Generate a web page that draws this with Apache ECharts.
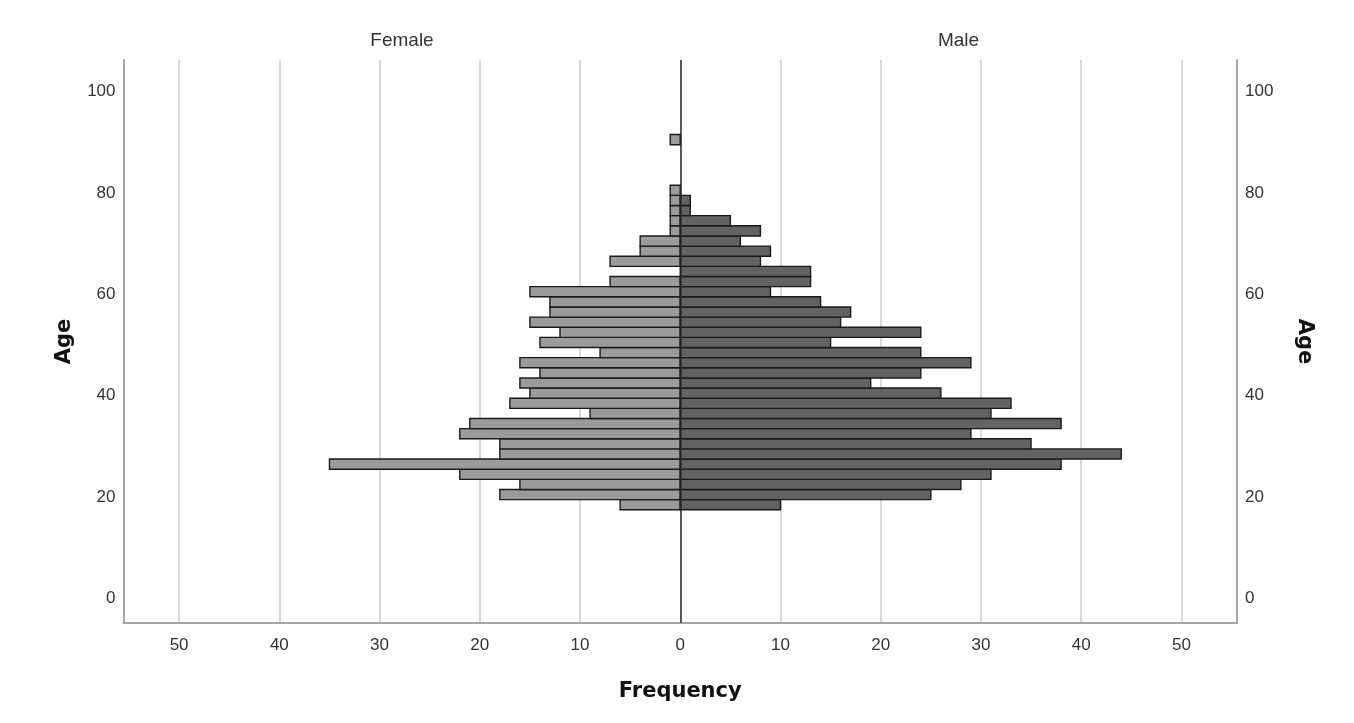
<!DOCTYPE html>
<html>
<head>
<meta charset="utf-8">
<script src="https://cdn.jsdelivr.net/npm/echarts@6/dist/echarts.min.js"></script>
<style>
html,body{margin:0;padding:0;background:#fff;}
#chart{width:1354px;height:723px;}
</style>
</head>
<body>
<div id="chart"></div>
<script>
// Age bin centres (each bin is 2 years wide)
const ageBins = [18.5, 20.5, 22.5, 24.5, 26.5, 28.5, 30.5, 32.5, 34.5, 36.5, 38.5, 40.5, 42.5, 44.5, 46.5, 48.5, 50.5, 52.5, 54.5, 56.5, 58.5, 60.5, 62.5, 64.5, 66.5, 68.5, 70.5, 72.5, 74.5, 76.5, 78.5, 80.5, 90.5];
const binWidth = 2;
const femaleCounts = [6, 18, 16, 22, 35, 18, 18, 22, 21, 9, 17, 15, 16, 14, 16, 8, 14, 12, 15, 13, 13, 15, 7, 0, 7, 4, 4, 1, 1, 1, 1, 1, 1];
const maleCounts = [10, 25, 28, 31, 38, 44, 35, 29, 38, 31, 33, 26, 19, 24, 29, 24, 15, 24, 16, 17, 14, 9, 13, 13, 8, 9, 6, 8, 5, 1, 1, 0, 0];
const panelTitles = ['Female', 'Male'];
const xTitle = 'Frequency';
const yTitle = 'Age';

const chart = echarts.init(document.getElementById('chart'), null, {renderer: 'canvas'});

function makeRender(side, fill) {
  return function (params, api) {
    const age = api.value(0);
    const v = api.value(1);
    if (!v) return null;
    const pEnd = api.coord([side * v, age - binWidth / 2]);
    const pStart = api.coord([0, age + binWidth / 2]);
    const x = Math.min(pEnd[0], pStart[0]);
    const w = Math.abs(pEnd[0] - pStart[0]);
    return {
      type: 'rect',
      shape: {x: x, y: pStart[1], width: w, height: pEnd[1] - pStart[1]},
      style: {fill: fill, stroke: '#1a1a1a', lineWidth: 1.4}
    };
  };
}

const tickFont = {fontFamily: 'Liberation Sans', fontSize: 17, color: '#333'};
const yMin = -4.83, yMax = 106.2;

const yAxisCommon = {
  type: 'value', min: yMin, max: yMax, minInterval: 20, maxInterval: 20,
  splitLine: {show: false}, axisTick: {show: false},
  axisLine: {show: true, onZero: false, lineStyle: {color: '#a5a5a5', width: 2}},
  nameLocation: 'middle',
  nameTextStyle: {fontFamily: 'DejaVu Sans', fontWeight: 'bold', fontSize: 21, color: '#111'}
};

chart.setOption({
  animation: false,
  backgroundColor: '#fff',
  grid: {left: 123.5, right: 117, top: 60, bottom: 100, containLabel: false},
  xAxis: {
    type: 'value', min: -55.55, max: 55.55, minInterval: 10, maxInterval: 10,
    axisLine: {show: true, onZero: false, lineStyle: {color: '#a5a5a5', width: 2}},
    axisTick: {show: false},
    splitLine: {show: true, lineStyle: {color: '#d9d9d9', width: 2}},
    axisLabel: Object.assign({margin: 14, formatter: v => (Math.abs(v) % 10 < 1e-6 ? String(Math.abs(Math.round(v))) : '')}, tickFont),
    name: xTitle, nameLocation: 'middle', nameGap: 58,
    nameTextStyle: {fontFamily: 'DejaVu Sans', fontWeight: 'bold', fontSize: 21, color: '#111'}
  },
  yAxis: [
    Object.assign({}, yAxisCommon, {
      position: 'left', name: yTitle, nameGap: 48, nameRotate: 90,
      axisLabel: Object.assign({margin: 8, formatter: v => (Math.abs(v % 20) < 1e-6 ? String(Math.round(v)) : '')}, tickFont)
    }),
    Object.assign({}, yAxisCommon, {
      position: 'right', name: yTitle, nameGap: 57, nameRotate: -90,
      axisLabel: Object.assign({margin: 8, formatter: v => (Math.abs(v % 20) < 1e-6 ? String(Math.round(v)) : '')}, tickFont)
    })
  ],
  graphic: [
    {type: 'text', x: 402, y: 41, style: {text: panelTitles[0], align: 'center', verticalAlign: 'middle', textAlign: 'center', textVerticalAlign: 'middle', font: '19px "Liberation Sans"', fill: '#333'}},
    {type: 'text', x: 958.5, y: 41, style: {text: panelTitles[1], align: 'center', verticalAlign: 'middle', textAlign: 'center', textVerticalAlign: 'middle', font: '19px "Liberation Sans"', fill: '#333'}}
  ],
  series: [
    {
      type: 'custom', name: panelTitles[0], xAxisIndex: 0, yAxisIndex: 0,
      renderItem: makeRender(-1, '#9b9b9b'),
      encode: {x: 1, y: 0},
      data: ageBins.map((a, i) => [a, femaleCounts[i]]),
      z: 2
    },
    {
      type: 'custom', name: panelTitles[1], xAxisIndex: 0, yAxisIndex: 0,
      renderItem: makeRender(1, '#636363'),
      encode: {x: 1, y: 0},
      data: ageBins.map((a, i) => [a, maleCounts[i]]),
      z: 2,
      markLine: {
        silent: true, symbol: ['none', 'none'], label: {show: false},
        lineStyle: {color: '#2a2a2a', width: 1.5, type: 'solid'},
        data: [{xAxis: 0}], z: 5
      }
    }
  ]
});
</script>
</body>
</html>
